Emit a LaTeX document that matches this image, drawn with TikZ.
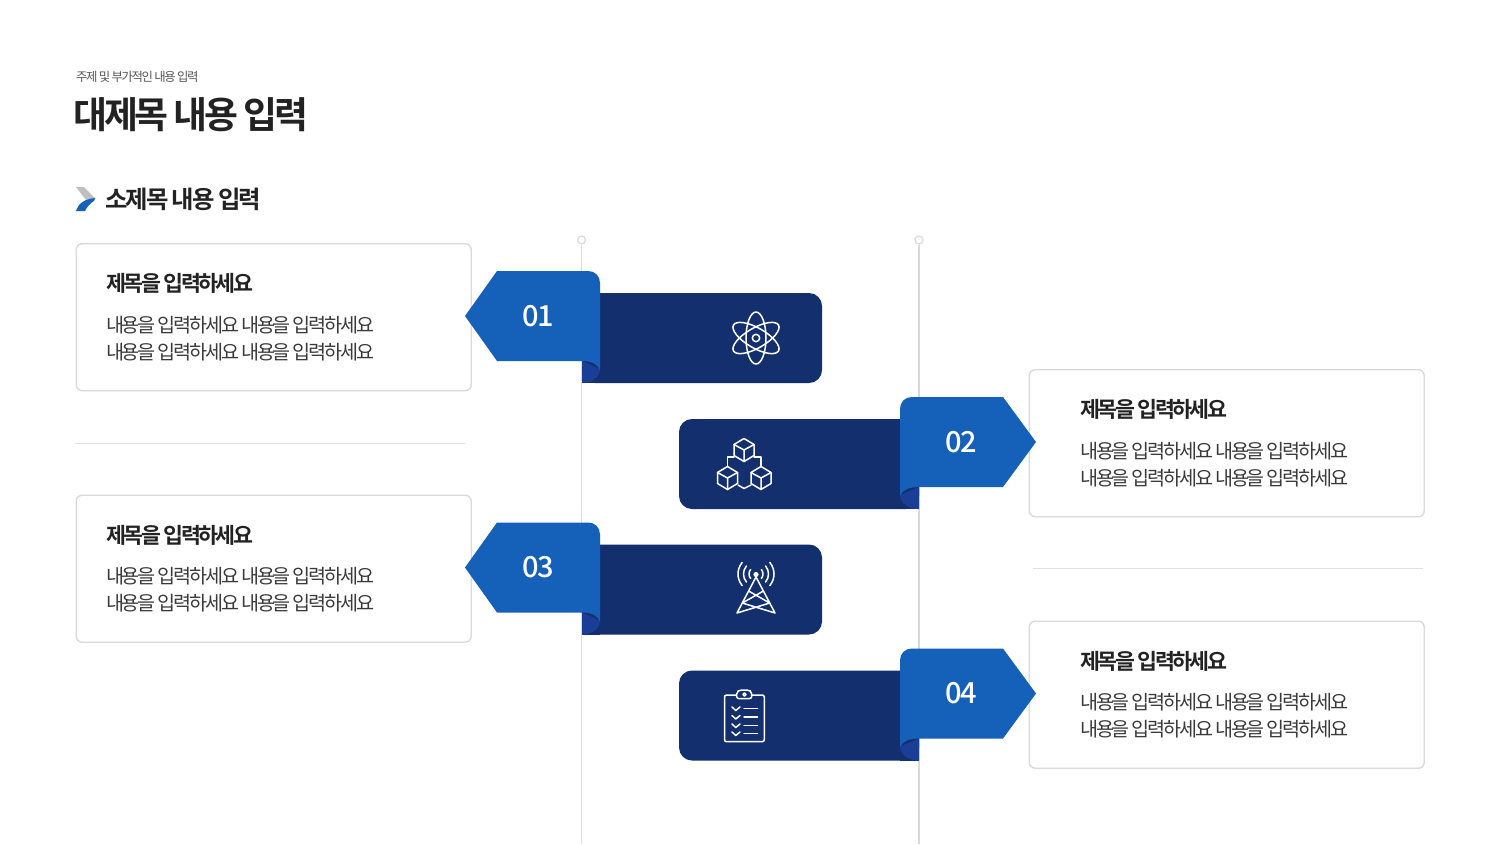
\documentclass[tikz,border=0pt]{standalone}
\usepackage{fontspec}
\usepackage{xcolor}
\usetikzlibrary{calc}
\newfontfamily\krfont[BoldFont={Noto Sans CJK KR Bold},LetterSpace=-11.5]{Noto Sans CJK KR}
\newfontfamily\headfont[BoldFont={Noto Sans CJK KR Bold},LetterSpace=-9]{Noto Sans CJK KR}
\newfontfamily\numfont[LetterSpace=-4]{Noto Sans CJK KR Medium}
\definecolor{navy}{HTML}{132F6E}
\definecolor{ribbon}{HTML}{1560B8}
\definecolor{fold}{HTML}{1A3E96}
\definecolor{rule}{HTML}{DADADA}
\definecolor{ink}{HTML}{222222}
\definecolor{soft}{HTML}{3A3A3A}
\tikzset{
  card/.style={draw=rule, line width=1.4pt, rounded corners=6pt, fill=white, minimum width=395pt, minimum height=147pt, anchor=north west, inner sep=0pt},
  cardtitle/.style={anchor=west, inner sep=0pt, text=ink, font=\krfont\bfseries\fontsize{21.7}{26}\selectfont},
  cardbody/.style={anchor=west, inner sep=0pt, align=left, text=soft, font=\krfont\fontsize{19.6}{27}\selectfont},
  numlab/.style={text=white, inner sep=0pt, font=\numfont\fontsize{29}{32}\selectfont},
  guide/.style={draw=rule, line width=1.2pt},
  pin/.style={circle, draw=rule, line width=1.2pt, fill=white, minimum size=8pt, inner sep=0pt},
  sepline/.style={draw=rule!80, line width=1pt},
  icon/.style={draw=white, line width=1.5pt, line join=round, line cap=round}
}
% card with title and two lines
\newcommand{\CardAt}[4]{%
  \node[card] (#1) at (#2,#3) {};
  \node[cardtitle] (#1title) at ($(#2,#3)+(#4+0.5,40.5)$) {제목을 입력하세요};
  \node[cardbody] (#1body) at ($(#2,#3)+(#4+0.5,95.5)$) {내용을 입력하세요 내용을 입력하세요\\내용을 입력하세요 내용을 입력하세요};
}
% ribbon pointing left, #1 = top of the blue part
\newcommand{\RibbonLeft}[3]{%
  \fill[navy, rounded corners=13pt] (582,#1+22) -- (822,#1+22) -- (822,#1+112) -- (582,#1+112) [sharp corners] -- cycle;
  \fill[navy] (582,#1+22) rectangle (600,#1+112);
  \fill[fold] (582,#1+90) -- (600,#1+98) .. controls (600,#1+106) and (592,#1+112) .. (582,#1+112) -- cycle;
  \fill[ribbon] (465,#1+45) -- (497,#1) -- (588,#1) .. controls (595,#1) and (600,#1+5) .. (600,#1+12) -- (600,#1+99) .. controls (598,#1+93) and (591,#1+90) .. (582,#1+90) -- (497,#1+90) -- cycle;
  \node[numlab] (#2) at (538,#1+45) {#3};
}
% ribbon pointing right
\newcommand{\RibbonRight}[3]{%
  \fill[navy, rounded corners=13pt] (919,#1+22) -- (679,#1+22) -- (679,#1+112) -- (919,#1+112) [sharp corners] -- cycle;
  \fill[navy] (900,#1+22) rectangle (919,#1+112);
  \fill[fold] (919,#1+90) -- (900,#1+98) .. controls (900,#1+106) and (908,#1+112) .. (919,#1+112) -- cycle;
  \fill[ribbon] (1036,#1+45) -- (1003,#1) -- (912,#1) .. controls (905,#1) and (900,#1+5) .. (900,#1+12) -- (900,#1+99) .. controls (902,#1+93) and (909,#1+90) .. (919,#1+90) -- (1003,#1+90) -- cycle;
  \node[numlab] (#2) at (961.5,#1+45) {#3};
}
% small cube for the second icon
\newcommand{\CubeAt}[2]{%
  \draw[icon] (#1,#2-11.5) -- (#1+10,#2-5.5) -- (#1+10,#2+5.5) -- (#1,#2+11.5) -- (#1-10,#2+5.5) -- (#1-10,#2-5.5) -- cycle;
  \draw[icon] (#1-10,#2-5.5) -- (#1,#2) -- (#1+10,#2-5.5) (#1,#2) -- (#1,#2+11.5);
}
\begin{document}
\begin{tikzpicture}[x=1pt,y=-1pt]
  \useasboundingbox (0,0) rectangle (1500,844);
  \fill[white] (0,0) rectangle (1500,844);

  % heading
  \node[anchor=west, inner sep=0pt, text=soft!85, font=\krfont\fontsize{12.4}{15}\selectfont] (topic) at (76,77) {주제 및 부가적인 내용 입력};
  \node[anchor=west, inner sep=0pt, text=ink, font=\headfont\bfseries\fontsize{36.9}{44}\selectfont] (head) at (73.5,114.5) {대제목 내용 입력};
  \node[anchor=west, inner sep=0pt, text=ink, font=\headfont\bfseries\fontsize{24.4}{30}\selectfont] (subhead) at (105.5,199) {소제목 내용 입력};
  \fill[black!25] (76,187) -- (84,187) -- (95,198) -- (86,200) -- cycle;
  \fill[ribbon] (76,211) .. controls (78,204) and (84,199) .. (95,198) -- (94,201) .. controls (90,203) and (87,207) .. (85,211) -- cycle;

  % time lines
  \node[pin] (pinA) at (581.5,240) {};
  \node[pin] (pinB) at (919,240) {};
  \coordinate (endA) at (581.5,844);
  \coordinate (endB) at (919,844);
  \draw[guide] (pinA) -- (endA);
  \draw[guide] (pinB) -- (endB);

  % separators
  \coordinate (sepAa) at (75,443);
  \coordinate (sepAb) at (465,443);
  \coordinate (sepBa) at (1033,568.5);
  \coordinate (sepBb) at (1423,568.5);
  \draw[sepline] (sepAa) -- (sepAb);
  \draw[sepline] (sepBa) -- (sepBb);

  % cards
  \CardAt{cardA}{75.5}{243}{30}
  \CardAt{cardB}{1028.5}{369}{51}
  \CardAt{cardC}{75.5}{494.5}{30}
  \CardAt{cardD}{1028.5}{620.5}{51}

  % ribbons
  \RibbonLeft{271}{numA}{01}
  \RibbonRight{397}{numB}{02}
  \RibbonLeft{522.5}{numC}{03}
  \RibbonRight{648.5}{numD}{04}

  % atom
  \draw[icon] (756,338) ellipse (10pt and 26pt);
  \draw[icon, rotate around={60:(756,338)}] (756,338) ellipse (10pt and 26pt);
  \draw[icon, rotate around={-60:(756,338)}] (756,338) ellipse (10pt and 26pt);
  \draw[icon] (756,338) circle (3.7pt);

  % cubes
  \CubeAt{744}{450}
  \CubeAt{727.5}{478}
  \CubeAt{761}{478}
  \draw[icon] (734,457) -- (727.5,457) -- (727.5,466.5) (754,457) -- (761,457) -- (761,466.5);
  \draw[icon] (738,485) -- (744,488.5) -- (751,485);

  % tower
  \draw[icon] (756,577) -- (737,613) -- (769.7,603) -- (748.6,591) (756,577) -- (775,613) -- (742.3,603) -- (763.4,591);
  \fill[white] (756,574.5) circle (2.6pt);
  \foreach \rad in {7,12.5,18}{
    \draw[icon] (756,574)++(140:\rad pt) arc (140:220:\rad pt);
    \draw[icon] (756,574)++(40:\rad pt) arc (40:-40:\rad pt);
  }

  % clipboard
  \draw[icon, rounded corners=2pt] (736.5,695) -- (724.5,695) -- (724.5,741.7) -- (764.3,741.7) -- (764.3,695) -- (751.7,695);
  \draw[icon, rounded corners=2pt] (736.7,698.5) -- (736.7,692) -- (739.5,690) -- (749,690) -- (751.7,692) -- (751.7,698.5) -- cycle;
  \draw[icon] (744.5,694.5) circle (1.6pt);
  \foreach \ypos in {708.5,717,725.5,733.5}{
    \draw[icon] (732,\ypos-1.5) -- (735.8,\ypos+2) -- (740,\ypos-1.5);
    \draw[icon] (744,\ypos) -- (757.5,\ypos);
  }
\end{tikzpicture}
\end{document}
